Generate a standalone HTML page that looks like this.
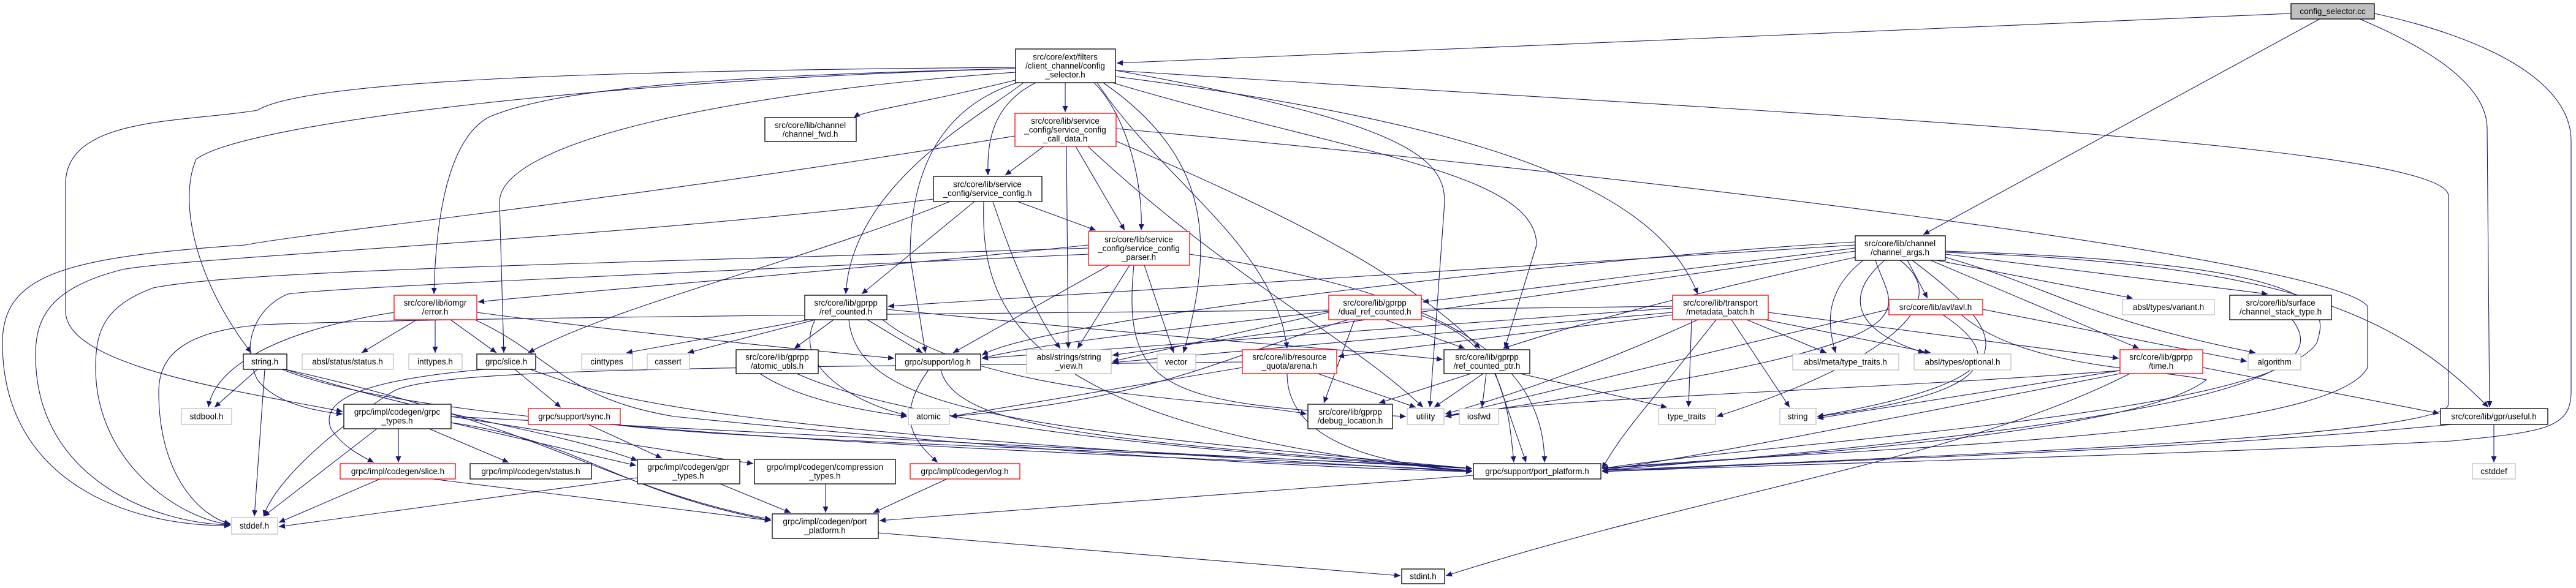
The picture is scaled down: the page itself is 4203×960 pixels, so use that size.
<!DOCTYPE html>
<html><head><meta charset="utf-8">
<style>
html,body{margin:0;padding:0;background:#fff;}
svg{display:block;}
text{font-family:"Liberation Sans",sans-serif;font-size:13.5px;fill:#000;text-anchor:middle;dominant-baseline:central;}
.e{fill:none;stroke:#191970;stroke-width:1.1;marker-end:url(#a);}
.n{fill:#fff;stroke:#000;stroke-width:1.3;}
.g{fill:#fff;stroke:#bfbfbf;stroke-width:1.3;}
.r{fill:#fff;stroke:#ff0000;stroke-width:1.3;}
.s{fill:#bfbfbf;stroke:#000;stroke-width:1.3;}
</style></head><body>
<svg width="4203" height="960" viewBox="0 0 4203 960" xmlns="http://www.w3.org/2000/svg">
<defs><marker id="a" markerWidth="11" markerHeight="9" refX="10" refY="4.5" orient="auto" markerUnits="userSpaceOnUse"><path d="M0,0 L10,4.5 L0,9 z" fill="#191970"/></marker></defs>
<g>
<!-- config_selector.cc -->
<path class="e" d="M3738,22 L1822,103"/>
<path class="e" d="M3785,31 L3138,383"/>
<path class="e" d="M3850,31 C3990,90 4058,150 4058,210 L4062,665"/>
<path class="e" d="M3874,22 C4050,60 4195,130 4195,230 L4195,640 C4195,700 4150,705 4000,720 C3500,745 3000,755 2614,770"/>
<!-- config_selector.h -->
<path class="e" d="M1660,130 C1500,170 1410,180 1393,192"/>
<path class="e" d="M1738,135 L1738,183"/>
<path class="e" d="M1690,135 C1620,170 1610,230 1612,286"/>
<path class="e" d="M1785,135 C1840,190 1865,300 1862,376"/>
<path class="e" d="M1657,112 C1100,125 900,150 800,190 C720,230 710,400 708,480"/>
<path class="e" d="M1657,118 C1200,150 815,230 815,330 L822,576"/>
<path class="e" d="M1657,112 C1000,130 400,200 320,260 C290,330 320,460 410,576"/>
<path class="e" d="M1657,110 C1000,115 500,130 420,180 C300,200 107,190 107,300 L107,508 C107,600 400,640 559,672"/>
<path class="e" d="M1660,135 C1520,180 1485,300 1485,420 L1510,576"/>
<path class="e" d="M1670,135 C1600,190 1390,300 1380,480"/>
<path class="e" d="M1820,125 C2400,200 2700,300 2770,480"/>
<path class="e" d="M1790,135 C1900,300 2080,400 2100,569"/>
<path class="e" d="M1815,135 C2200,250 2507,280 2507,400 L2455,569"/>
<path class="e" d="M1820,115 C2300,200 2357,260 2357,330 L2333,665"/>
<path class="e" d="M1800,135 C1980,260 1980,400 1931,576"/>
<path class="e" d="M1820,115 C2800,180 3995,230 3995,320 L3995,660 C3990,710 3300,740 2614,768"/>
<!-- call data -->
<path class="e" d="M1703,239 L1640,286"/>
<path class="e" d="M1755,239 L1835,376"/>
<path class="e" d="M1740,239 L1743,569"/>
<path class="e" d="M1820,230 C2100,350 2300,450 2415,569"/>
<path class="e" d="M1775,239 C2000,450 2200,550 2322,665"/>
<path class="e" d="M1656,222 C1000,330 500,380 400,400 C100,420 4,450 4,560 C4,780 200,860 376,858"/>
<path class="e" d="M1821,210 C2600,280 3800,420 3863,500 L3863,600 C3800,720 3000,730 2614,765"/>
<!-- service_config -->
<path class="e" d="M1523,325 C1000,390 300,420 200,440 C80,470 58,520 58,580 C58,780 250,855 376,857"/>
<path class="e" d="M1550,329 C1300,430 1000,500 862,576"/>
<path class="e" d="M1590,329 L1406,480"/>
<path class="e" d="M1660,329 L1788,376"/>
<path class="e" d="M1620,329 C1660,450 1700,530 1730,569"/>
<path class="e" d="M1605,329 C1600,500 1650,700 2402,770"/>
<!-- parser -->
<path class="e" d="M1776,405 C1000,430 400,440 250,470 C170,500 156,540 156,600 C156,760 300,850 376,856"/>
<path class="e" d="M1810,433 L1555,576"/>
<path class="e" d="M1843,433 L1758,569"/>
<path class="e" d="M1867,433 L1915,576"/>
<path class="e" d="M1850,433 C1830,640 1900,660 2294,680"/>
<path class="e" d="M1941,415 C2300,470 2520,560 2520,755"/>
<path class="e" d="M1776,400 C1400,440 900,480 780,493"/>
<path class="e" d="M1776,415 C1000,450 540,470 470,480 C420,500 390,560 420,620 C450,660 520,672 559,676"/>
<!-- ref_counted -->
<path class="e" d="M1320,522 L1022,576"/>
<path class="e" d="M1330,522 L1122,576"/>
<path class="e" d="M1360,522 L1296,569"/>
<path class="e" d="M1415,522 L1505,576"/>
<path class="e" d="M1447,505 C2000,560 2200,570 2354,587"/>
<path class="e" d="M1440,522 C1600,650 2000,650 2132,676"/>
<path class="e" d="M1330,522 C1290,600 1400,660 1480,678"/>
<path class="e" d="M1385,522 C1400,680 1700,700 2402,765"/>
<!-- error.h -->
<path class="e" d="M680,522 L590,576"/>
<path class="e" d="M710,522 L710,576"/>
<path class="e" d="M735,522 L810,576"/>
<path class="e" d="M643,510 C450,540 350,600 340,665"/>
<path class="e" d="M778,510 C1000,540 1300,570 1459,585"/>
<path class="e" d="M775,522 C900,580 920,650 1100,680 C1500,720 2000,760 2402,770"/>
<!-- string.h -->
<path class="e" d="M420,603 L350,665"/>
<path class="e" d="M432,603 L415,843"/>
<path class="e" d="M460,603 C700,700 1500,730 2402,768"/>
<path class="e" d="M465,603 C700,680 900,700 1040,752"/>
<path class="e" d="M465,603 C900,700 1000,800 1258,848"/>
<!-- slice.h -->
<path class="e" d="M840,603 L915,665"/>
<path class="e" d="M790,603 C600,620 520,650 540,700 C560,730 590,745 610,755"/>
<path class="e" d="M865,603 C1000,650 1100,700 2402,770"/>
<!-- grpc_types -->
<path class="e" d="M650,700 L650,755"/>
<path class="e" d="M700,700 L830,755"/>
<path class="e" d="M615,700 L430,843"/>
<path class="e" d="M736,690 L1038,760"/>
<path class="e" d="M736,680 L1229,757"/>
<path class="e" d="M736,690 C950,720 1000,800 1258,850"/>
<path class="e" d="M736,680 L2402,765"/>
<path class="e" d="M960,693 L1080,748"/>
<path class="e" d="M1000,693 C1200,720 2000,740 2402,765"/>
<path class="e" d="M620,782 L455,853"/>
<path class="e" d="M705,782 L1258,850"/>
<path class="e" d="M1040,780 L455,860"/>
<path class="e" d="M1175,790 L1290,837"/>
<path class="e" d="M1347,790 L1347,837"/>
<path class="e" d="M1545,782 L1425,837"/>
<path class="e" d="M1515,604 C1460,680 1490,720 1530,755"/>
<path class="e" d="M1535,604 C1560,700 1800,720 2402,765"/>
<path class="e" d="M2404,776 L1435,850"/>
<path class="e" d="M1433,870 L2285,940"/>
<path class="e" d="M3475,610 C3200,750 2800,800 2359,940"/>
<path class="e" d="M1240,610 C1300,650 1400,670 1480,680"/>
<path class="e" d="M1300,610 C1500,700 2000,740 2402,765"/>
<!-- arena -->
<path class="e" d="M2027,600 L1551,680"/>
<path class="e" d="M2150,610 L2310,665"/>
<path class="e" d="M2100,610 C2100,720 2250,760 2402,768"/>
<path class="e" d="M2027,591 C1200,600 700,600 640,640 C560,690 450,780 430,843"/>
<!-- dual_ref_counted -->
<path class="e" d="M2260,522 L2390,569"/>
<path class="e" d="M2210,522 L2160,658"/>
<path class="e" d="M2168,508 C1900,540 1700,560 1602,585"/>
<path class="e" d="M2168,510 L1815,590"/>
<path class="e" d="M2200,522 C2000,580 1900,650 1551,680"/>
<path class="e" d="M2319,515 C2450,560 2460,650 2470,755"/>
<!-- ref_counted_ptr -->
<path class="e" d="M2400,610 L2250,658"/>
<path class="e" d="M2420,610 L2340,665"/>
<path class="e" d="M2425,610 L2418,665"/>
<path class="e" d="M2480,610 L2720,665"/>
<path class="e" d="M2440,610 L2490,755"/>
<!-- metadata_batch -->
<path class="e" d="M2729,503 L1602,585"/>
<path class="e" d="M2729,510 L1815,592"/>
<path class="e" d="M2729,514 L2183,582"/>
<path class="e" d="M2770,522 C2600,600 2450,650 2358,676"/>
<path class="e" d="M2760,522 L2755,665"/>
<path class="e" d="M2825,522 L2920,665"/>
<path class="e" d="M2850,522 L2980,576"/>
<path class="e" d="M2880,522 L3150,576"/>
<path class="e" d="M2885,510 L3457,585"/>
<path class="e" d="M2800,522 C2700,650 2650,700 2614,765"/>
<path class="e" d="M2729,500 C2000,510 800,515 430,530 C300,540 259,580 259,640 C259,780 330,845 376,855"/>
<!-- channel_args -->
<path class="e" d="M3027,400 L1449,500"/>
<path class="e" d="M3027,405 L2321,493"/>
<path class="e" d="M3112,425 L3145,487"/>
<path class="e" d="M3160,425 L3480,487"/>
<path class="e" d="M3174,415 L3700,480"/>
<path class="e" d="M3040,425 C2970,480 2985,540 2995,576"/>
<path class="e" d="M3075,425 C3010,480 3020,540 3140,576"/>
<path class="e" d="M3150,425 L3490,569"/>
<path class="e" d="M3174,420 C3350,470 3400,520 3680,576"/>
<path class="e" d="M3174,412 C3700,430 3900,500 4060,665"/>
<path class="e" d="M3174,410 C3800,430 3800,500 3780,560 C3700,680 2900,720 2614,765"/>
<path class="e" d="M3120,425 C3300,560 3300,620 2965,680"/>
<path class="e" d="M3060,425 C3090,520 3200,560 2358,680"/>
<path class="e" d="M3027,420 C2800,470 2600,520 2452,569"/>
<path class="e" d="M3027,395 C2600,420 1700,520 1602,580"/>
<path class="e" d="M3027,410 L1815,580"/>
<path class="e" d="M3100,425 C3200,500 3050,600 2801,680"/>
<!-- avl -->
<path class="e" d="M3235,505 L3666,590"/>
<path class="e" d="M3082,505 L2358,680"/>
<path class="e" d="M3200,514 C3300,600 3500,600 3600,620 C3500,700 3000,740 2614,765"/>
<path class="e" d="M3170,514 C3300,600 3200,650 2965,680"/>
<!-- time -->
<path class="e" d="M3594,600 L3980,675"/>
<path class="e" d="M3459,605 L2965,683"/>
<path class="e" d="M3459,610 C3000,700 2800,740 2614,768"/>
<path class="e" d="M3459,605 C3000,640 2500,650 2358,680"/>
<path class="e" d="M3740,522 C3800,600 3700,680 2614,768"/>
<path class="e" d="M4069,693 L4069,755"/>
<path class="e" d="M4000,693 C3500,740 3000,750 2614,770"/>
</g>
<g>
<rect class="s" x="3738" y="6" width="136" height="25"/><text x="3806" y="18.5">config_selector.cc</text>
<rect class="n" x="1657" y="80" width="163" height="55"/><text x="1738" y="93">src/core/ext/filters</text><text x="1738" y="107.5">/client_channel/config</text><text x="1738" y="122">_selector.h</text>
<rect class="r" x="1656" y="185" width="165" height="54"/><text x="1738" y="197.5">src/core/lib/service</text><text x="1738" y="212">_config/service_config</text><text x="1738" y="226.5">_call_data.h</text>
<rect class="n" x="1523" y="288" width="177" height="41"/><text x="1611" y="301">src/core/lib/service</text><text x="1611" y="315.5">_config/service_config.h</text>
<rect class="r" x="1776" y="378" width="165" height="55"/><text x="1858" y="391">src/core/lib/service</text><text x="1858" y="405.5">_config/service_config</text><text x="1858" y="420">_parser.h</text>
<rect class="n" x="1248" y="192" width="149" height="39"/><text x="1322" y="204.5">src/core/lib/channel</text><text x="1322" y="219">/channel_fwd.h</text>
<rect class="n" x="3027" y="385" width="147" height="40"/><text x="3100" y="397.5">src/core/lib/channel</text><text x="3100" y="412">/channel_args.h</text>
<rect class="r" x="643" y="482" width="135" height="40"/><text x="710" y="494.5">src/core/lib/iomgr</text><text x="710" y="509">/error.h</text>
<rect class="n" x="1313" y="482" width="134" height="40"/><text x="1380" y="494.5">src/core/lib/gprpp</text><text x="1380" y="509">/ref_counted.h</text>
<rect class="r" x="2168" y="482" width="151" height="40"/><text x="2243" y="494.5">src/core/lib/gprpp</text><text x="2243" y="509">/dual_ref_counted.h</text>
<rect class="r" x="2729" y="482" width="156" height="40"/><text x="2807" y="494.5">src/core/lib/transport</text><text x="2807" y="509">/metadata_batch.h</text>
<rect class="r" x="3082" y="489" width="153" height="25"/><text x="3158" y="501.5">src/core/lib/avl/avl.h</text>
<rect class="g" x="3463" y="489" width="150" height="25"/><text x="3538" y="501.5">absl/types/variant.h</text>
<rect class="n" x="3638" y="482" width="166" height="40"/><text x="3721" y="494.5">src/core/lib/surface</text><text x="3721" y="509">/channel_stack_type.h</text>
<rect class="n" x="397" y="578" width="71" height="25"/><text x="432" y="590.5">string.h</text>
<rect class="g" x="493" y="578" width="149" height="25"/><text x="567" y="590.5">absl/status/status.h</text>
<rect class="g" x="667" y="578" width="87" height="25"/><text x="710" y="590.5">inttypes.h</text>
<rect class="n" x="778" y="578" width="96" height="25"/><text x="826" y="590.5">grpc/slice.h</text>
<rect class="g" x="949" y="578" width="83" height="25"/><text x="990" y="590.5">cinttypes</text>
<rect class="g" x="1056" y="578" width="69" height="25"/><text x="1090" y="590.5">cassert</text>
<rect class="n" x="1201" y="571" width="134" height="39"/><text x="1268" y="583">src/core/lib/gprpp</text><text x="1268" y="597.5">/atomic_utils.h</text>
<rect class="n" x="1461" y="578" width="139" height="26"/><text x="1530" y="591">grpc/support/log.h</text>
<rect class="g" x="1675" y="571" width="138" height="39"/><text x="1744" y="583">absl/strings/string</text><text x="1744" y="597.5">_view.h</text>
<rect class="g" x="1888" y="578" width="63" height="26"/><text x="1919" y="591">vector</text>
<rect class="r" x="2027" y="571" width="154" height="39"/><text x="2104" y="583">src/core/lib/resource</text><text x="2104" y="597.5">_quota/arena.h</text>
<rect class="n" x="2356" y="571" width="140" height="39"/><text x="2426" y="583">src/core/lib/gprpp</text><text x="2426" y="597.5">/ref_counted_ptr.h</text>
<rect class="g" x="2925" y="578" width="173" height="26"/><text x="3011" y="591">absl/meta/type_traits.h</text>
<rect class="g" x="3123" y="578" width="158" height="26"/><text x="3202" y="591">absl/types/optional.h</text>
<rect class="r" x="3459" y="571" width="135" height="39"/><text x="3526" y="583">src/core/lib/gprpp</text><text x="3526" y="597.5">/time.h</text>
<rect class="g" x="3668" y="578" width="86" height="26"/><text x="3711" y="591">algorithm</text>
<rect class="g" x="296" y="667" width="82" height="26"/><text x="337" y="680">stdbool.h</text>
<rect class="n" x="561" y="660" width="175" height="40"/><text x="648" y="672.5">grpc/impl/codegen/grpc</text><text x="648" y="687">_types.h</text>
<rect class="r" x="862" y="667" width="150" height="26"/><text x="937" y="680">grpc/support/sync.h</text>
<rect class="g" x="1482" y="667" width="67" height="26"/><text x="1515" y="680">atomic</text>
<rect class="n" x="2134" y="660" width="138" height="40"/><text x="2203" y="672.5">src/core/lib/gprpp</text><text x="2203" y="687">/debug_location.h</text>
<rect class="g" x="2296" y="667" width="60" height="26"/><text x="2326" y="680">utility</text>
<rect class="g" x="2381" y="667" width="64" height="26"/><text x="2413" y="680">iosfwd</text>
<rect class="g" x="2706" y="667" width="93" height="26"/><text x="2752" y="680">type_traits</text>
<rect class="g" x="2904" y="667" width="59" height="26"/><text x="2933" y="680">string</text>
<rect class="n" x="3982" y="667" width="175" height="26"/><text x="4069" y="680">src/core/lib/gpr/useful.h</text>
<rect class="r" x="555" y="757" width="188" height="25"/><text x="649" y="769.5">grpc/impl/codegen/slice.h</text>
<rect class="n" x="767" y="757" width="198" height="25"/><text x="866" y="769.5">grpc/impl/codegen/status.h</text>
<rect class="n" x="1040" y="750" width="167" height="40"/><text x="1123" y="762.5">grpc/impl/codegen/gpr</text><text x="1123" y="777">_types.h</text>
<rect class="n" x="1231" y="750" width="230" height="40"/><text x="1346" y="762.5">grpc/impl/codegen/compression</text><text x="1346" y="777">_types.h</text>
<rect class="r" x="1485" y="757" width="179" height="25"/><text x="1574" y="769.5">grpc/impl/codegen/log.h</text>
<rect class="n" x="2404" y="757" width="208" height="25"/><text x="2508" y="769.5">grpc/support/port_platform.h</text>
<rect class="g" x="4034" y="757" width="70" height="25"/><text x="4069" y="769.5">cstddef</text>
<rect class="g" x="378" y="845" width="75" height="27"/><text x="415" y="858.5">stddef.h</text>
<rect class="n" x="1260" y="839" width="173" height="40"/><text x="1346" y="851.5">grpc/impl/codegen/port</text><text x="1346" y="866">_platform.h</text>
<rect class="n" x="2287" y="929" width="70" height="24"/><text x="2322" y="941">stdint.h</text>
</g>
</svg>
</body></html>
